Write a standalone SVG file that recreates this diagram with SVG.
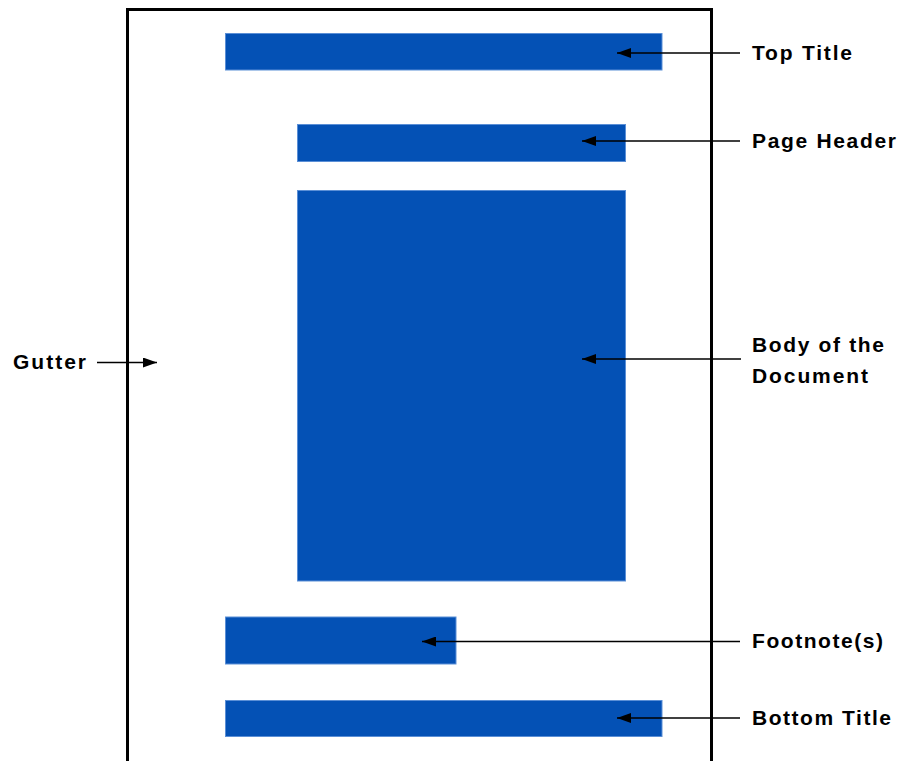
<svg xmlns="http://www.w3.org/2000/svg" width="897" height="761" viewBox="0 0 897 761">
<style>
.bar{fill:#0451b5;stroke:#5b8fd6;stroke-width:1}
.frame{fill:none;stroke:#000;stroke-width:3}
.conn{stroke:#000;stroke-width:1.5;fill:none}
.lbl{font-family:"Liberation Sans",Arial,sans-serif;font-weight:bold;font-size:21px;fill:#000}
</style>
<defs>
<marker id="ah" viewBox="0 0 14 10" refX="14" refY="5" markerWidth="14" markerHeight="10" markerUnits="userSpaceOnUse" orient="auto">
<path d="M0,0 L14,5 L0,10 Z" fill="#000"/>
</marker>
</defs>
<rect width="897" height="761" fill="#fff"/>
<g id="page"><path class="frame" d="M127.5,761 V9.5 H711.5 V761"/></g>
<g id="top-title"><rect class="bar" x="225.5" y="33.5" width="436.5" height="36.5"/></g>
<g id="page-header"><rect class="bar" x="297.5" y="124.5" width="328" height="37"/></g>
<g id="body"><rect class="bar" x="297.5" y="190.5" width="328" height="390.5"/></g>
<g id="footnote"><rect class="bar" x="225.5" y="617" width="230.5" height="47"/></g>
<g id="bottom-title"><rect class="bar" x="225.5" y="700.5" width="436.5" height="36"/></g>
<g id="connectors">
<line class="conn" x1="740" y1="53" x2="617" y2="53" marker-end="url(#ah)"/>
<line class="conn" x1="740" y1="141" x2="582" y2="141" marker-end="url(#ah)"/>
<line class="conn" x1="741" y1="359" x2="582" y2="359" marker-end="url(#ah)"/>
<line class="conn" x1="740" y1="641.5" x2="422" y2="641.5" marker-end="url(#ah)"/>
<line class="conn" x1="740" y1="718" x2="617" y2="718" marker-end="url(#ah)"/>
<line class="conn" x1="97" y1="362.5" x2="157" y2="362.5" marker-end="url(#ah)"/>
</g>
<g id="labels">
<text class="lbl" x="752" y="60" textLength="100" lengthAdjust="spacing">Top Title</text>
<text class="lbl" x="752" y="148" textLength="144" lengthAdjust="spacing">Page Header</text>
<text class="lbl" x="752" y="352" textLength="132" lengthAdjust="spacing">Body of the</text>
<text class="lbl" x="752" y="383" textLength="116" lengthAdjust="spacing">Document</text>
<text class="lbl" x="752" y="648" textLength="131" lengthAdjust="spacing">Footnote(s)</text>
<text class="lbl" x="752" y="725" textLength="139" lengthAdjust="spacing">Bottom Title</text>
<text class="lbl" x="13" y="369" textLength="73" lengthAdjust="spacing">Gutter</text>
</g>
</svg>
